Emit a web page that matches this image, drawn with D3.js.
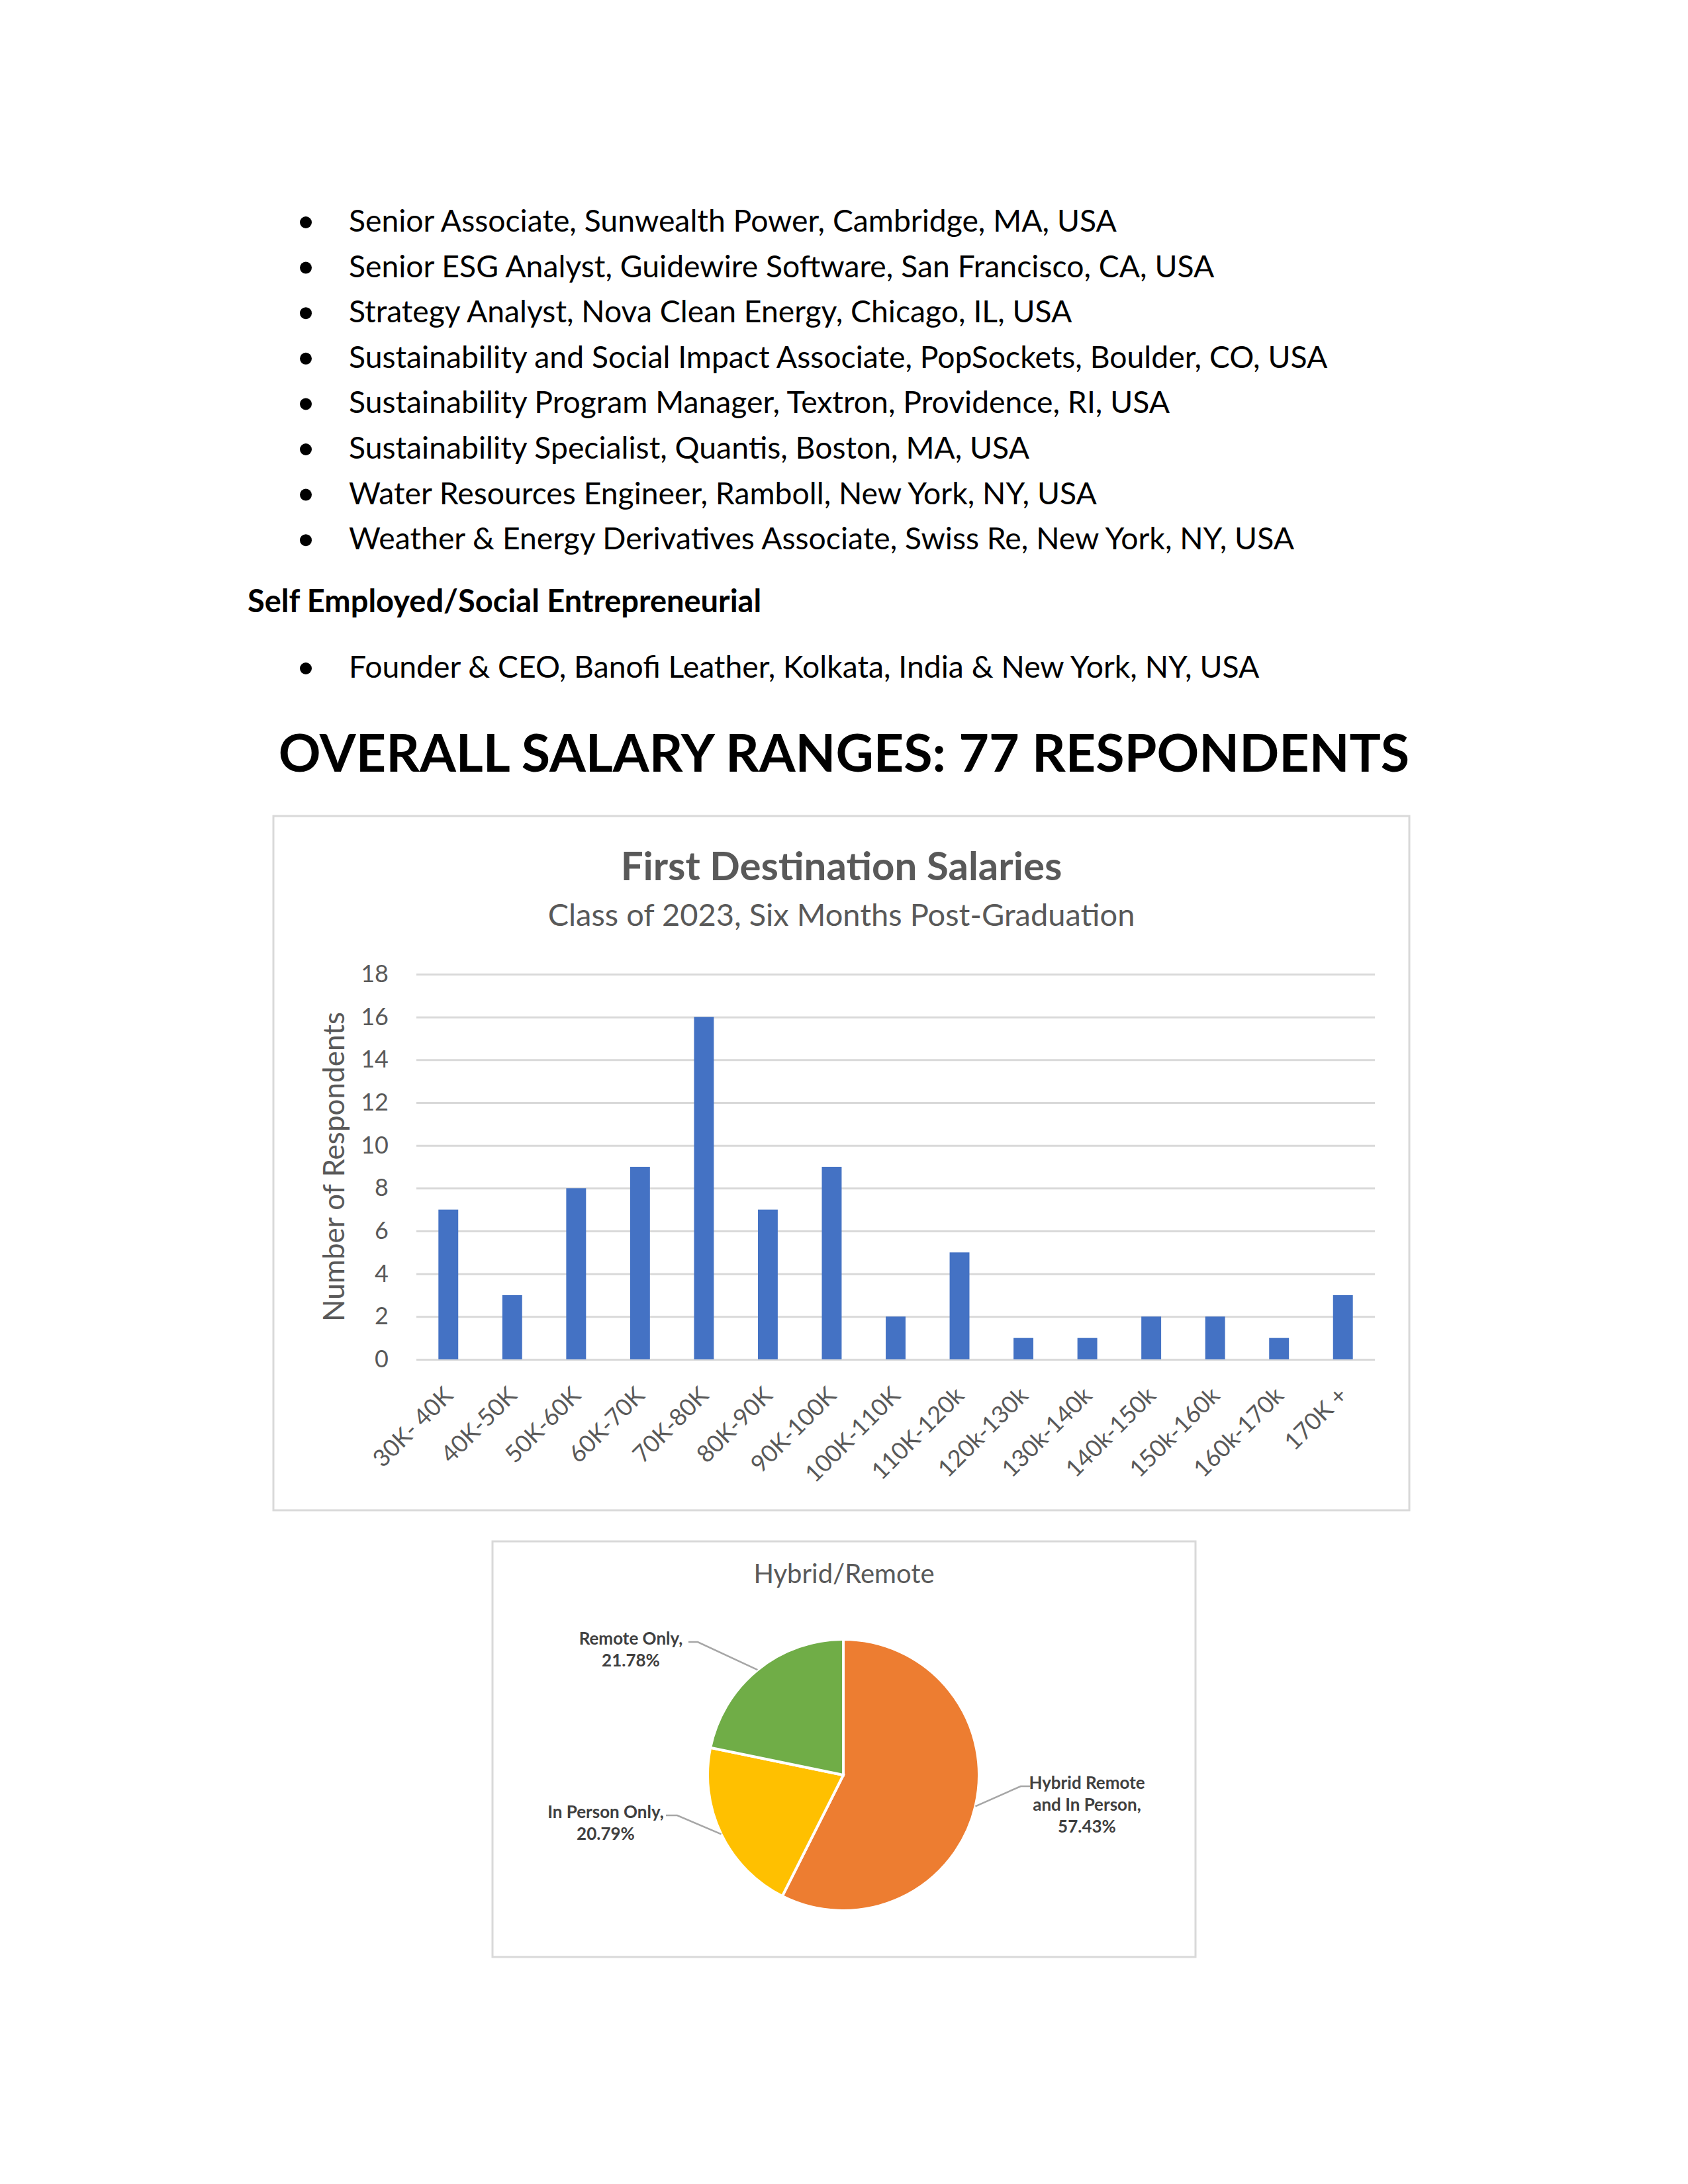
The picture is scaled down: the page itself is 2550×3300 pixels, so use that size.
<!DOCTYPE html>
<html>
<meta charset="utf-8">
<title>First Destination Salaries</title>
<script src="https://d3js.org/d3.v7.min.js"></script>
<style>
  body { margin: 0; background: #fff; }
  svg text { font-family: Lato, "Open Sans", sans-serif; }
</style>
<body>
<script>
  // ---- data ----
  var jobs = [
    "Senior Associate, Sunwealth Power, Cambridge, MA, USA",
    "Senior ESG Analyst, Guidewire Software, San Francisco, CA, USA",
    "Strategy Analyst, Nova Clean Energy, Chicago, IL, USA",
    "Sustainability and Social Impact Associate, PopSockets, Boulder, CO, USA",
    "Sustainability Program Manager, Textron, Providence, RI, USA",
    "Sustainability Specialist, Quantis, Boston, MA, USA",
    "Water Resources Engineer, Ramboll, New York, NY, USA",
    "Weather & Energy Derivatives Associate, Swiss Re, New York, NY, USA"
  ];
  var selfEmployed = ["Founder & CEO, Banofi Leather, Kolkata, India & New York, NY, USA"];

  var salaryBands = ["30K- 40K", "40K-50K", "50K-60K", "60K-70K", "70K-80K", "80K-90K",
    "90K-100K", "100K-110K", "110K-120k", "120k-130k", "130k-140k", "140k-150k",
    "150k-160k", "160k-170k", "170K +"];
  var respondents = [7, 3, 8, 9, 16, 7, 9, 2, 5, 1, 1, 2, 2, 1, 3];
  var yTicks = [0, 2, 4, 6, 8, 10, 12, 14, 16, 18];

  var workModes = [["Hybrid Remote", "and In Person,"], ["In Person Only,"], ["Remote Only,"]];
  var workShares = [57.43, 20.79, 21.78];
  var workColors = ["#ED7D31", "#FFC000", "#70AD47"];

  var svg = d3.select("body").append("svg").attr("width", 2550).attr("height", 3300);

  // ---- text above the charts ----
  var lineGap = 68.6;
  var list = svg.append("g");
  jobs.forEach(function(t, i) {
    var by = 350 + i * lineGap;
    list.append("circle").attr("cx", 462).attr("cy", by - 14).attr("r", 9).attr("fill", "#000");
    list.append("text").attr("x", 527).attr("y", by).attr("font-size", 46.3).text(t);
  });
  svg.append("text").attr("x", 374).attr("y", 925).attr("font-size", 47)
    .attr("font-weight", "bold").text("Self Employed/Social Entrepreneurial");
  selfEmployed.forEach(function(t, i) {
    var by = 1024 + i * lineGap;
    list.append("circle").attr("cx", 462).attr("cy", by - 14).attr("r", 9).attr("fill", "#000");
    list.append("text").attr("x", 527).attr("y", by).attr("font-size", 46.3).text(t);
  });

  var total = 77;
  svg.append("text").attr("x", 1275).attr("y", 1166).attr("text-anchor", "middle")
    .attr("font-size", 79).attr("font-weight", "bold")
    .text("OVERALL SALARY RANGES: " + total + " RESPONDENTS");

  // ---- bar chart ----
  svg.append("rect").attr("x", 413).attr("y", 1233).attr("width", 1716).attr("height", 1049)
    .attr("fill", "#fff").attr("stroke", "#D9D9D9").attr("stroke-width", 3);

  svg.append("text").attr("x", 1271).attr("y", 1330).attr("text-anchor", "middle")
    .attr("font-size", 60).attr("font-weight", "bold").attr("fill", "#595959")
    .text("First Destination Salaries");
  svg.append("text").attr("x", 1271).attr("y", 1399).attr("text-anchor", "middle")
    .attr("font-size", 47).attr("fill", "#595959")
    .text("Class of 2023, Six Months Post-Graduation");

  var x = d3.scaleBand().domain(salaryBands).range([629, 2077])
    .paddingInner(0.69).paddingOuter(0.345);
  var y = d3.scaleLinear().domain([0, 18]).range([2054, 1472]);

  var gy = svg.append("g").attr("transform", "translate(629,0)")
    .call(d3.axisLeft(y).tickValues(yTicks).tickSize(-1448).tickPadding(42));
  gy.select(".domain").remove();
  gy.selectAll("line").attr("stroke", "#D9D9D9").attr("stroke-width", 3);
  gy.selectAll("text").attr("fill", "#595959").attr("font-size", 36)
    .style("font-family", "Lato, 'Open Sans', sans-serif");

  svg.selectAll(".bar").data(respondents).enter().append("rect")
    .attr("class", "bar")
    .attr("x", function(d, i) { return x(salaryBands[i]); })
    .attr("y", function(d) { return y(d); })
    .attr("width", x.bandwidth())
    .attr("height", function(d) { return y(0) - y(d); })
    .attr("fill", "#4472C4");

  var gx = svg.append("g").attr("transform", "translate(0," + y(0) + ")")
    .call(d3.axisBottom(x).tickSize(0).tickPadding(0));
  gx.select(".domain").remove();
  gx.selectAll("text").attr("y", 0).attr("dy", 0)
    .attr("text-anchor", "end")
    .attr("transform", "translate(9,57) rotate(-45)")
    .attr("fill", "#595959").attr("font-size", 36)
    .style("font-family", "Lato, 'Open Sans', sans-serif");

  svg.append("text").attr("transform", "translate(505,1763) rotate(-90)")
    .attr("text-anchor", "middle").attr("dy", "0.35em")
    .attr("font-size", 44).attr("fill", "#595959")
    .text("Number of Respondents");

  // ---- pie chart ----
  svg.append("rect").attr("x", 744).attr("y", 2329).attr("width", 1062).attr("height", 628)
    .attr("fill", "#fff").attr("stroke", "#D9D9D9").attr("stroke-width", 3);
  svg.append("text").attr("x", 1275).attr("y", 2392).attr("text-anchor", "middle")
    .attr("font-size", 40).attr("fill", "#595959").text("Hybrid/Remote");

  var r = 205;
  var pie = d3.pie().sort(null).value(function(d) { return d; });
  var arc = d3.arc().innerRadius(0).outerRadius(r);
  var rim = d3.arc().innerRadius(r).outerRadius(r);
  var slices = pie(workShares);

  var gp = svg.append("g").attr("transform", "translate(1274,2682)");
  gp.selectAll("path").data(slices).enter().append("path")
    .attr("d", arc)
    .attr("fill", function(d, i) { return workColors[i]; })
    .attr("stroke", "#fff").attr("stroke-width", 4);

  // label boxes placed like the original (page coordinates)
  var labelSpots = [
    { x: 1642, y: 2703, elbow: 1542, end: 1556 },
    { x: 915, y: 2747, elbow: 1023, end: 1006 },
    { x: 953, y: 2485, elbow: 1054, end: 1040 }
  ];
  slices.forEach(function(d, i) {
    var p = rim.centroid(d);
    var s = labelSpots[i];
    var ly = s.y - 4;
    svg.append("polyline")
      .attr("points", [[1274 + p[0], 2682 + p[1]], [s.elbow, ly], [s.end, ly]].join(" "))
      .attr("fill", "none").attr("stroke", "#A6A6A6").attr("stroke-width", 2.5);
    var lines = workModes[i].concat([workShares[i].toFixed(2) + "%"]);
    var t = svg.append("text").attr("text-anchor", "middle")
      .attr("font-size", 26).attr("font-weight", "bold").attr("fill", "#404040");
    lines.forEach(function(l, j) {
      t.append("tspan").attr("x", s.x).attr("y", s.y + j * 33).text(l);
    });
  });
</script>
</body>
</html>
